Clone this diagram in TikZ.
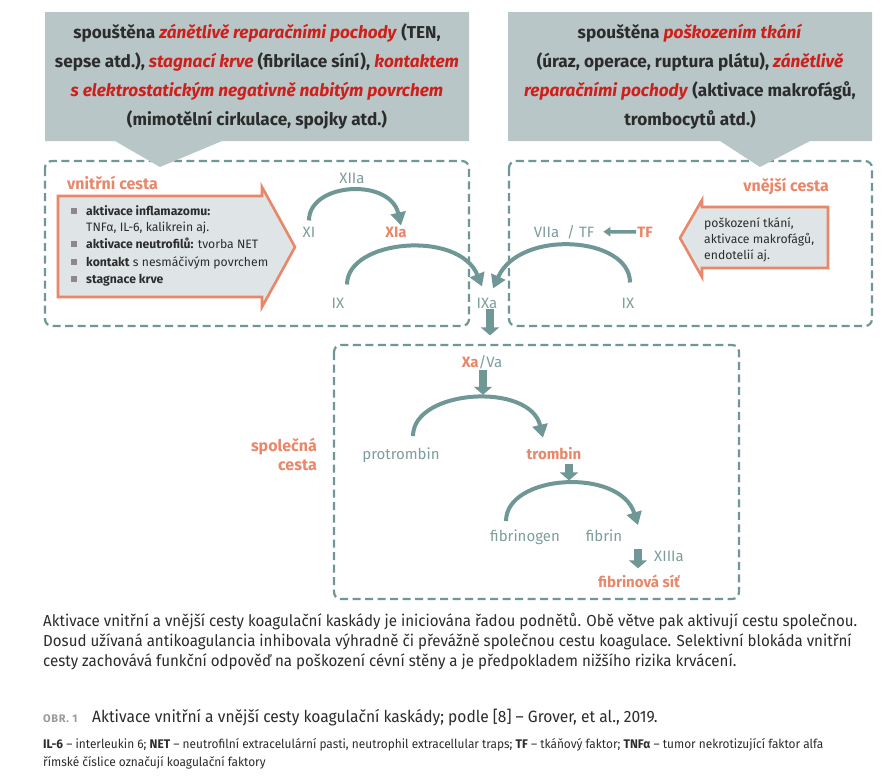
\documentclass[tikz,border=0pt]{standalone}
\usepackage{fontspec}
\setmainfont{Fira Sans}
\newfontfamily\condfont[FakeStretch=0.95]{Fira Sans}
\newfontfamily\obrfont[LetterSpace=6]{Fira Sans}
\usetikzlibrary{arrows.meta}
\definecolor{cArrow}{HTML}{6E9795}
\definecolor{cLabel}{HTML}{7D9E9C}
\definecolor{cCallout}{HTML}{B8C6C7}
\definecolor{cFill}{HTML}{DFE5E6}
\definecolor{cSalmon}{HTML}{E8876A}
\definecolor{cRed}{HTML}{CF1F1A}
\definecolor{cDark}{HTML}{2C2C2C}
\definecolor{cBullet}{HTML}{8E8888}
\definecolor{cCap}{HTML}{9A9A9A}
\newcommand{\rd}[1]{\textcolor{cRed}{\textit{#1}}}
\tikzset{
  lbl/.style={text=cLabel, font=\fontsize{15}{16}\selectfont, inner sep=1pt, anchor=base},
  lblb/.style={text=cSalmon, font=\fontsize{15}{16}\selectfont\bfseries, inner sep=1pt, anchor=base},
  ttl/.style={text=cSalmon, font=\fontsize{16}{19}\selectfont\bfseries, inner sep=0pt, anchor=base},
  curvearrow/.style={draw=cArrow, line width=4pt, -{Triangle[width=15pt,length=13pt]}},
  blockarrow/.style={draw=cArrow, line width=8pt, -{Triangle[width=18pt,length=8pt]}},
  smallarrow/.style={draw=cArrow, line width=3.5pt, -{Triangle[width=9pt,length=7pt]}},
  dashbox/.style={draw=cArrow, line width=2.2pt, dash pattern=on 8pt off 4.5pt, rounded corners=7pt},
  callout/.style={fill=cCallout},
  chevron/.style={draw=cSalmon, line width=2.6pt, fill=cFill, line join=miter},
  calltext/.style={text=cDark, font=\fontsize{17.2}{29}\selectfont\bfseries, align=center, inner sep=0pt},
  item/.style={text=cDark, font=\fontsize{12.2}{14}\selectfont, inner sep=0pt, anchor=base west},
  bulletsq/.style={fill=cBullet, minimum size=6pt, inner sep=0pt},
  para/.style={text=cDark, font=\condfont\fontsize{15.9}{20}\selectfont, inner sep=0pt, anchor=base west},
  note/.style={text=cDark, font=\condfont\fontsize{12.5}{16}\selectfont, inner sep=0pt, anchor=base west},
}
\begin{document}
\begin{tikzpicture}[x=1pt,y=-1pt]
\useasboundingbox (0,0) rectangle (895,777);
\fill[white] (0,0) rectangle (895,777);

% dashed boxes
\draw[dashbox] (45,161) rectangle (469,326);
\draw[dashbox] (509,161) rectangle (872,326);
\draw[dashbox] (334,345) rectangle (739,599);

% callouts
\fill[callout] (45,12) -- (469,12) -- (469,141) -- (222,141) -- (160,167) -- (115,141) -- (45,141) -- cycle;
\fill[callout] (508,12) -- (872,12) -- (872,141) -- (810,141) -- (760,167) -- (720,141) -- (508,141) -- cycle;

\node[calltext] (callL) at (257,77) {spouštěna \rd{zánětlivě reparačními pochody} (TEN,\\
sepse atd.), \rd{stagnací krve} (fibrilace síní), \rd{kontaktem}\\
\rd{s elektrostatickým negativně nabitým povrchem}\\
(mimotělní cirkulace, spojky atd.)};
\node[calltext] (callR) at (690,77) {spouštěna \rd{poškozením tkání}\\
(úraz, operace, ruptura plátu), \rd{zánětlivě}\\
\rd{reparačními pochody} (aktivace makrofágů,\\
trombocytů atd.)};

% intrinsic pathway
\node[ttl, anchor=base west] (vnitrni) at (67,189) {vnitřní cesta};
\draw[chevron] (58,196) -- (262,196) -- (262,187) -- (295,247) -- (262,307) -- (262,297) -- (58,297) -- cycle;
\node[bulletsq] (b1) at (74,211) {};
\node[bulletsq] (b2) at (74,244) {};
\node[bulletsq] (b3) at (74,262) {};
\node[bulletsq] (b4) at (74,279) {};
\node[item] (i1) at (86,215) {\textbf{aktivace inflamazomu:}};
\node[item] (i1b) at (86,231) {TNFα, IL-6, kalikrein aj.};
\node[item] (i2) at (86,248) {\textbf{aktivace neutrofilů:} tvorba NET};
\node[item] (i3) at (86,266) {\textbf{kontakt} s nesmáčivým povrchem};
\node[item] (i4) at (86,283) {\textbf{stagnace krve}};

% extrinsic pathway
\node[ttl, anchor=base east] (vnejsi) at (829,191) {vnější cesta};
\draw[chevron] (828,207) -- (702,207) -- (702,200) -- (680,238) -- (702,277) -- (702,268) -- (828,268) -- cycle;
\node[item] (e1) at (704,227) {poškození tkání,};
\node[item] (e2) at (704,243) {aktivace makrofágů,};
\node[item] (e3) at (704,259) {endotelií aj.};

% factor labels
\node[lbl] (XIIa) at (352,183) {XIIa};
\node[lbl] (XI) at (309,237) {XI};
\node[lblb] (XIa) at (396,237) {XIa};
\node[lbl] (IXl) at (338,308) {IX};
\node[lbl] (IXa) at (487,308) {IXa};
\node[lbl] (IXr) at (628,308) {IX};
\node[lbl] (VIIa) at (564,237) {VIIa\hspace{8pt}/ TF};
\node[lblb] (TF) at (645,237) {TF};

\draw[curvearrow] ([yshift=5pt]XI.north) .. controls +(0,-38) and +(-11,-48) .. ([xshift=5pt]XIa.north);
\draw[curvearrow] ([xshift=9pt,yshift=12pt]IXl.north) .. controls +(0,-45) and +(-23,-57) .. ([xshift=-5pt,yshift=10pt]IXa.north);
\draw[curvearrow] ([xshift=2pt,yshift=14pt]IXr.north) .. controls +(0,-46) and +(27,-60) .. ([xshift=6pt,yshift=8pt]IXa.north);
\draw[smallarrow] (TF.west) -- ([xshift=8pt]VIIa.east);

% common pathway
\node[lbl, text=cLabel] (XaVa) at (482,367) {\textcolor{cSalmon}{\textbf{Xa}}/Va};
\node[lbl] (prot) at (401,459) {protrombin};
\node[lblb] (trom) at (554,459) {trombin};
\node[lbl] (fibgen) at (525,541) {fibrinogen};
\node[lbl] (fibrin) at (604,541) {fibrin};
\node[lbl] (XIIIa) at (669,561) {XIIIa};
\node[lblb] (sit) at (639,587) {fibrinová síť};
\node[ttl, anchor=base east, align=right, font=\fontsize{16}{19}\selectfont\bfseries] (spol) at (317,470) {společná\\cesta};

\draw[blockarrow] ([xshift=3pt]IXa.south) -- ++(0,26);
\draw[blockarrow] ([xshift=1pt]XaVa.south) -- ++(0,25);
\draw[curvearrow] ([xshift=12pt,yshift=10pt]prot.north) .. controls +(0,-47) and +(-13,-56) .. ([xshift=-11pt,yshift=8pt]trom.north);
\draw[blockarrow] ([xshift=15pt,yshift=-4pt]trom.south) -- ++(0,16);
\draw[curvearrow] ([xshift=-19pt,yshift=7pt]fibgen.north) .. controls +(0,-47) and +(-18,-58) .. ([xshift=34pt,yshift=3pt]fibrin.north);
\draw[blockarrow] ([xshift=-1pt,yshift=24pt]sit.north) -- ([xshift=-1pt,yshift=5pt]sit.north);

% text below
\node[para] (p1) at (43,626) {Aktivace vnitřní a vnější cesty koagulační kaskády je iniciována řadou podnětů. Obě větve pak aktivují cestu společnou.};
\node[para] (p2) at (43,646) {Dosud užívaná antikoagulancia inhibovala výhradně či převážně společnou cestu koagulace. Selektivní blokáda vnitřní};
\node[para] (p3) at (43,666) {cesty zachovává funkční odpověď na poškození cévní stěny a je předpokladem nižšího rizika krvácení.};
\node[para, text=cCap, font=\obrfont\fontsize{11}{12}\selectfont\bfseries] (obr) at (43,722) {OBR. 1};
\node[para, font=\condfont\fontsize{16.4}{20}\selectfont] (cap) at (92,722) {Aktivace vnitřní a vnější cesty koagulační kaskády; podle [8] – Grover, et al., 2019.};
\node[note] (n1) at (43,748) {\textbf{IL-6} – interleukin 6; \textbf{NET} – neutrofilní extracelulární pasti, neutrophil extracellular traps; \textbf{TF} – tkáňový faktor; \textbf{TNFα} – tumor nekrotizující faktor alfa};
\node[note] (n2) at (43,766) {římské číslice označují koagulační faktory};
\end{tikzpicture}
\end{document}
